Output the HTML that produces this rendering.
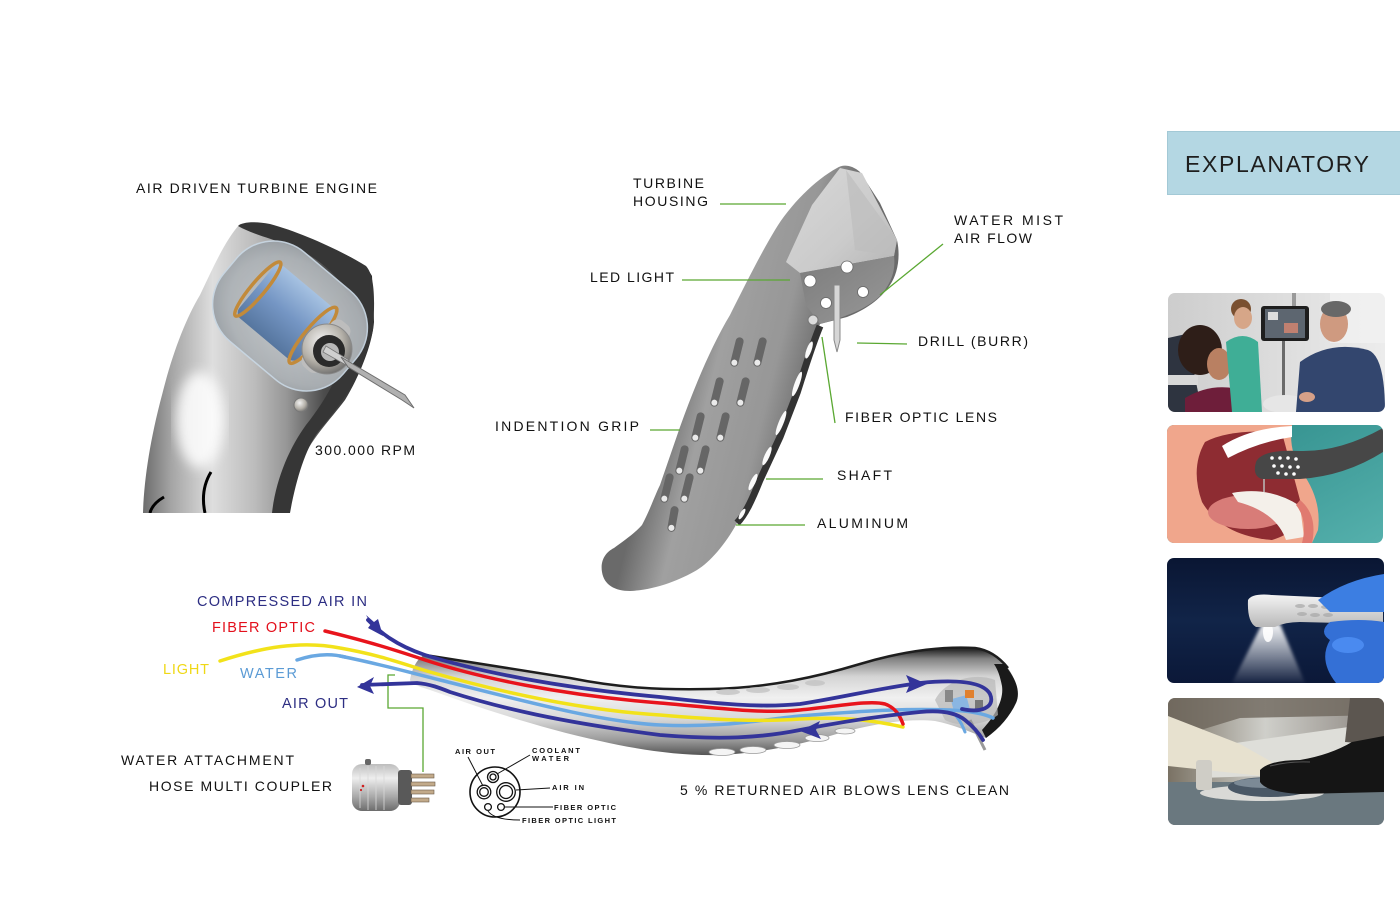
<!DOCTYPE html>
<html><head><meta charset="utf-8"><style>
html,body{margin:0;padding:0;background:#fff;}
svg{display:block;}
text{font-family:"Liberation Sans",Arial,sans-serif;}
</style></head><body>
<svg width="1400" height="906" viewBox="0 0 1400 906" xmlns="http://www.w3.org/2000/svg">
<defs>
<linearGradient id="turb" gradientUnits="userSpaceOnUse" x1="143" y1="0" x2="375" y2="0">
<stop offset="0" stop-color="#6c6c6c"/><stop offset="0.12" stop-color="#a4a4a4"/><stop offset="0.3" stop-color="#dedede"/><stop offset="0.48" stop-color="#bcbcbc"/><stop offset="0.62" stop-color="#969696"/><stop offset="0.78" stop-color="#4c4c4c"/><stop offset="1" stop-color="#262626"/></linearGradient>
<linearGradient id="blueCyl" x1="0" y1="0" x2="0" y2="1"><stop offset="0" stop-color="#a6c2e2"/><stop offset="0.5" stop-color="#7596c4"/><stop offset="1" stop-color="#56769f"/></linearGradient>
<radialGradient id="capsG" cx="0.55" cy="0.5" r="0.6"><stop offset="0" stop-color="#c9cdd0"/><stop offset="0.8" stop-color="#adb2b6"/><stop offset="1" stop-color="#9aa0a5"/></radialGradient>
<radialGradient id="collar" cx="0.4" cy="0.35" r="0.7"><stop offset="0" stop-color="#f2f2f2"/><stop offset="0.6" stop-color="#b4b0a8"/><stop offset="1" stop-color="#6a6a6a"/></radialGradient>
<linearGradient id="shaftG" gradientUnits="userSpaceOnUse" x1="660" y1="410" x2="800" y2="445"><stop offset="0" stop-color="#6a6a6a"/><stop offset="0.3" stop-color="#a0a0a0"/><stop offset="0.7" stop-color="#979797"/><stop offset="1" stop-color="#6a6a6a"/></linearGradient>
<linearGradient id="topFace" x1="0" y1="0" x2="1" y2="1"><stop offset="0" stop-color="#d8d8d8"/><stop offset="0.6" stop-color="#cbcbcb"/><stop offset="1" stop-color="#b4b4b4"/></linearGradient>
<linearGradient id="underG" x1="0" y1="0" x2="1" y2="1"><stop offset="0" stop-color="#7c7c7c"/><stop offset="1" stop-color="#989898"/></linearGradient>
<linearGradient id="hoseG" gradientUnits="userSpaceOnUse" x1="0" y1="650" x2="0" y2="756"><stop offset="0" stop-color="#2c2c2c"/><stop offset="0.08" stop-color="#808080"/><stop offset="0.25" stop-color="#d4d4d4"/><stop offset="0.45" stop-color="#f0f0f0"/><stop offset="0.65" stop-color="#d8d8d8"/><stop offset="0.85" stop-color="#9a9a9a"/><stop offset="1" stop-color="#505050"/></linearGradient>
<linearGradient id="couplerG" x1="0" y1="0" x2="0" y2="1"><stop offset="0" stop-color="#bdbdbd"/><stop offset="0.3" stop-color="#eeeeee"/><stop offset="0.7" stop-color="#a8a8a8"/><stop offset="1" stop-color="#6c6c6c"/></linearGradient>
<linearGradient id="p1bg" x1="0" y1="0" x2="1" y2="0"><stop offset="0" stop-color="#cdcdcd"/><stop offset="1" stop-color="#ececec"/></linearGradient>
<linearGradient id="p2bg" x1="0" y1="0" x2="1" y2="1"><stop offset="0" stop-color="#2c8a88"/><stop offset="1" stop-color="#55b0ac"/></linearGradient>
<linearGradient id="p3bg" x1="0" y1="0" x2="0" y2="1"><stop offset="0" stop-color="#0a1633"/><stop offset="0.5" stop-color="#112448"/><stop offset="1" stop-color="#0b1838"/></linearGradient>
<linearGradient id="cone" x1="0" y1="0" x2="0" y2="1"><stop offset="0" stop-color="#ffffff" stop-opacity="0.95"/><stop offset="1" stop-color="#ffffff" stop-opacity="0.05"/></linearGradient>
<linearGradient id="hp3" x1="0" y1="0" x2="0" y2="1"><stop offset="0" stop-color="#f4f4f4"/><stop offset="1" stop-color="#b8b8b8"/></linearGradient>
<linearGradient id="p4top" x1="0" y1="0" x2="1" y2="0"><stop offset="0" stop-color="#7a7264"/><stop offset="0.45" stop-color="#cfcfca"/><stop offset="1" stop-color="#8a847e"/></linearGradient>
<filter id="blur6"><feGaussianBlur stdDeviation="6"/></filter>
<filter id="blur2"><feGaussianBlur stdDeviation="1.5"/></filter>
<clipPath id="c1"><rect x="1168" y="293" width="217" height="119" rx="7"/></clipPath>
<clipPath id="c2"><rect x="1167" y="425" width="216" height="118" rx="7"/></clipPath>
<clipPath id="c3"><rect x="1167" y="558" width="217" height="125" rx="7"/></clipPath>
<clipPath id="c4"><rect x="1168" y="698" width="216" height="127" rx="7"/></clipPath>
<clipPath id="turbClip"><rect x="130" y="200" width="300" height="313"/></clipPath>
</defs>
<rect width="1400" height="906" fill="#fff"/>

<!-- ============ TURBINE (top-left) ============ -->
<g clip-path="url(#turbClip)">
<path d="M240,224 C255,222 270,224 285,230 L330,248 C350,256 366,264 372,276 L374,322 C372,345 360,375 345,400 C330,420 310,440 300,465 L288,513 L143,513 C144,480 150,440 162,395 C172,355 185,320 200,295 C212,270 225,240 240,224 Z" fill="url(#turb)"/>
<path d="M238,226 C242,222 255,221 270,224 C300,232 340,250 366,266 C375,276 375,300 373,330 C362,378 340,405 318,432 C305,450 296,480 290,513 L272,513 C276,478 290,447 306,425 C330,395 348,360 352,322 C354,290 330,262 290,246 C270,238 252,234 238,226 Z" fill="#363636"/>
<ellipse cx="200" cy="420" rx="24" ry="48" fill="#ffffff" opacity="0.85" filter="url(#blur6)"/>
<g transform="translate(290,316) rotate(40)">
<rect x="-78" y="-58" width="156" height="116" rx="48" fill="url(#capsG)" opacity="0.95" stroke="#c8d6e2" stroke-width="1.5"/>
<rect x="-44" y="-34" width="78" height="68" rx="8" fill="url(#blueCyl)"/>
<ellipse cx="-42" cy="0" rx="7" ry="35" fill="none" stroke="#c28a3a" stroke-width="3.5"/>
<ellipse cx="30" cy="0" rx="8" ry="36" fill="none" stroke="#c28a3a" stroke-width="3.5"/>
<rect x="36" y="-30" width="22" height="60" rx="8" fill="#bdbdbd"/>
</g>
<circle cx="327" cy="349" r="25" fill="url(#collar)" stroke="#8a8a8a" stroke-width="1"/>
<circle cx="329" cy="351" r="16" fill="#2a2a2a"/>
<circle cx="330" cy="352" r="9" fill="#b8b8b8"/>
<path d="M326,346 L349,360 L346,365 L323,352 Z" fill="#d0d0d0" stroke="#777" stroke-width="0.8"/>
<path d="M341,357 L348,367 L402,400 L414,408 L405,395 Z" fill="#b0b0b0" stroke="#6e6e6e" stroke-width="1"/>
<circle cx="301" cy="405" r="7" fill="url(#collar)" stroke="#777" stroke-width="1"/>
<path d="M164,497 Q152,504 150,513" stroke="#000" stroke-width="3" fill="none"/>
<path d="M211,472 Q200,490 205,513" stroke="#000" stroke-width="3" fill="none"/>
</g>

<!-- ============ CENTER HANDPIECE ============ -->
<path d="M837,168 C843,164 852,165 860,172 L880,203 L897,240 C901,258 897,275 890,285 C880,300 865,310 847,317 L820,324 C812,340 805,365 797,393 L780,437 L760,480 C752,500 745,515 737,523 C725,545 710,562 697,570 C680,580 655,590 630,591 C615,591 604,585 602,572 C600,560 606,552 614,548 C625,540 635,533 642,525 C650,510 655,495 660,485 L680,427 C695,385 712,345 730,315 C745,285 760,255 775,230 C790,205 815,180 837,168 Z" fill="url(#shaftG)"/>
<path d="M840,168 L862,173 L897,240 L894,256 L800,273 L786,262 L812,205 Z" fill="url(#topFace)"/>
<path d="M846,170 L897,240 L894,256 L855,250 Z" fill="#bdbdbd" opacity="0.7"/>
<path d="M800,273 L894,256 C896,272 890,285 880,296 C866,309 848,316 820,324 L806,305 Z" fill="url(#underG)"/>
<circle cx="810" cy="281" r="6" fill="#fff" stroke="#666" stroke-width="0.8"/>
<circle cx="847" cy="267" r="6" fill="#fff" stroke="#666" stroke-width="0.8"/>
<circle cx="863" cy="292" r="5.5" fill="#fff" stroke="#666" stroke-width="0.8"/>
<circle cx="826" cy="303" r="5.5" fill="#fff" stroke="#666" stroke-width="0.8"/>
<circle cx="813" cy="320" r="5" fill="#dcdcdc" stroke="#777" stroke-width="1"/>
<path d="M834,285 L840,285 L840,340 L837,352 L834,340 Z" fill="#d6d6d6" stroke="#888" stroke-width="1"/>
<path d="M820,326 C812,345 805,368 797,393 L780,437 L760,480 C752,500 745,515 737,523" fill="none" stroke="#333" stroke-width="7"/>
<g fill="#fafafa">
<ellipse cx="809" cy="350" rx="2.5" ry="9" transform="rotate(20 809 350)"/>
<ellipse cx="797" cy="384" rx="2.5" ry="13" transform="rotate(20 797 384)"/>
<ellipse cx="781" cy="423" rx="2.5" ry="13" transform="rotate(22 781 423)"/>
<ellipse cx="767" cy="456" rx="2.5" ry="10" transform="rotate(24 767 456)"/>
<ellipse cx="753" cy="482" rx="2.5" ry="9" transform="rotate(26 753 482)"/>
<ellipse cx="742" cy="514" rx="2" ry="6" transform="rotate(30 742 514)"/>
</g>
<g>
<g transform="translate(737,352) rotate(14)"><rect x="-4" y="-15" width="8" height="30" rx="4" fill="#666"/><ellipse cx="0" cy="11" rx="3" ry="3" fill="#eaeaea"/></g>
<g transform="translate(760,352) rotate(14)"><rect x="-4" y="-15" width="8" height="30" rx="4" fill="#666"/><ellipse cx="0" cy="11" rx="3" ry="3" fill="#eaeaea"/></g>
<g transform="translate(717,392) rotate(14)"><rect x="-4" y="-15" width="8" height="30" rx="4" fill="#666"/><ellipse cx="0" cy="11" rx="3" ry="3" fill="#eaeaea"/></g>
<g transform="translate(743,392) rotate(14)"><rect x="-4" y="-15" width="8" height="30" rx="4" fill="#666"/><ellipse cx="0" cy="11" rx="3" ry="3" fill="#eaeaea"/></g>
<g transform="translate(698,427) rotate(14)"><rect x="-4" y="-15" width="8" height="30" rx="4" fill="#666"/><ellipse cx="0" cy="11" rx="3" ry="3" fill="#eaeaea"/></g>
<g transform="translate(723,427) rotate(14)"><rect x="-4" y="-15" width="8" height="30" rx="4" fill="#666"/><ellipse cx="0" cy="11" rx="3" ry="3" fill="#eaeaea"/></g>
<g transform="translate(682,460) rotate(14)"><rect x="-4" y="-15" width="8" height="30" rx="4" fill="#666"/><ellipse cx="0" cy="11" rx="3" ry="3" fill="#eaeaea"/></g>
<g transform="translate(703,460) rotate(14)"><rect x="-4" y="-15" width="8" height="30" rx="4" fill="#666"/><ellipse cx="0" cy="11" rx="3" ry="3" fill="#eaeaea"/></g>
<g transform="translate(667,488) rotate(14)"><rect x="-4" y="-15" width="8" height="30" rx="4" fill="#666"/><ellipse cx="0" cy="11" rx="3" ry="3" fill="#eaeaea"/></g>
<g transform="translate(687,488) rotate(14)"><rect x="-4" y="-15" width="8" height="30" rx="4" fill="#666"/><ellipse cx="0" cy="11" rx="3" ry="3" fill="#eaeaea"/></g>
<g transform="translate(673,519) rotate(10)"><rect x="-4" y="-13" width="8" height="26" rx="4" fill="#666"/><ellipse cx="0" cy="9" rx="3" ry="3" fill="#eaeaea"/></g>
</g>

<!-- green leaders -->
<g stroke="#5aa832" stroke-width="1.3" fill="none">
<line x1="720" y1="204" x2="786" y2="204"/>
<line x1="682" y1="280" x2="790" y2="280"/>
<line x1="943" y1="244" x2="880" y2="295"/>
<line x1="857" y1="343" x2="907" y2="344"/>
<line x1="822" y1="337" x2="835" y2="423"/>
<line x1="650" y1="430" x2="680" y2="430"/>
<line x1="766" y1="479" x2="823" y2="479"/>
<line x1="736" y1="525" x2="805" y2="525"/>
<path d="M395,675 L388,675 L388,708 L423,708 L423,772"/>
</g>

<!-- ============ BOTTOM HOSE ============ -->
<path d="M410,680 C412,668 418,657 425,655 C470,662 520,670 570,678 C620,688 660,690 710,689 C770,688 820,676 860,664 C900,652 940,646 975,648 C990,650 1000,658 1008,668 C1016,680 1020,692 1016,702 C1010,716 1000,728 986,738 C970,732 952,724 935,721 C905,718 870,725 840,733 C800,745 760,753 720,755 C680,756 640,750 600,741 C540,728 480,708 430,690 C418,686 411,684 410,680 Z" fill="url(#hoseG)"/>
<path d="M425,655 C470,662 520,670 570,678 C620,688 660,690 710,689 C770,688 820,676 860,664 C900,652 940,646 975,648 C990,650 1000,658 1008,668" fill="none" stroke="#1e1e1e" stroke-width="2.5"/>
<path d="M1004,664 C1016,678 1021,692 1016,703 C1010,716 1000,728 986,738 L982,730 C995,716 1004,700 1002,686 C1000,676 998,670 994,664 Z" fill="#1a1a1a"/>
<path d="M935,700 C945,680 975,672 995,680 L998,715 C985,725 960,728 945,720 Z" fill="#b8b8b8" opacity="0.7"/>
<g fill="#f4f4f4" stroke="#9a9a9a" stroke-width="0.8">
<ellipse cx="722" cy="752" rx="13" ry="3.5"/>
<ellipse cx="753" cy="750" rx="13" ry="3.5"/>
<ellipse cx="787" cy="745" rx="13" ry="3.5"/>
<ellipse cx="817" cy="738" rx="12" ry="3.5"/>
<ellipse cx="845" cy="731" rx="10" ry="3"/>
</g>
<g fill="#c4c4c4" opacity="0.8">
<ellipse cx="728" cy="692" rx="12" ry="3"/>
<ellipse cx="758" cy="690" rx="12" ry="3"/>
<ellipse cx="788" cy="687" rx="11" ry="3"/>
<ellipse cx="815" cy="683" rx="10" ry="3"/>
</g>
<rect x="952" y="697" width="16" height="13" fill="#8ab6e2" transform="rotate(-15 960 703)"/>
<rect x="965" y="690" width="9" height="8" fill="#e0802e"/>
<rect x="945" y="690" width="8" height="12" fill="#888"/>
<rect x="975" y="700" width="8" height="10" fill="#777"/>
<line x1="970" y1="720" x2="985" y2="750" stroke="#999" stroke-width="3"/>

<g fill="none" stroke-linecap="round">
<path d="M340,656 C380,664 400,670 440,680 C520,700 600,722 660,725 C720,728 760,720 800,716 C850,712 900,708 950,710 C970,711 985,714 993,718" stroke="#6aa8e2" stroke-width="3.5"/>
<path d="M297,660 C315,654 330,653 345,657" stroke="#6aa8e2" stroke-width="3.5"/>
<path d="M950,710 C958,716 962,724 965,732" stroke="#6aa8e2" stroke-width="3"/>
<path d="M220,661 C260,648 300,640 340,648 C380,655 400,663 430,672 C500,692 580,710 660,715 C720,720 760,722 800,719 C850,716 880,722 903,727" stroke="#f2e21a" stroke-width="3.5"/>
<path d="M325,631 C370,642 395,650 425,660 C480,678 560,695 660,703 C720,708 760,714 800,710 C840,706 870,700 885,704 C896,708 900,716 903,724" stroke="#e8141c" stroke-width="3.5"/>
<path d="M368,620 C380,632 395,645 425,655 C480,672 560,688 660,697 C720,704 760,708 800,704 C840,698 880,688 920,683 C950,680 982,680 990,694 C996,708 980,713 962,709" stroke="#33349a" stroke-width="3.8"/>
<path d="M362,685 L417,683 C430,684 440,688 450,692 C500,708 560,722 660,735 C720,740 760,738 800,730 C840,722 880,716 920,712 C940,710 955,712 965,720 C975,728 980,735 983,740" stroke="#33349a" stroke-width="3.8"/>
</g>
<g fill="#33349a">
<path d="M383,636 L368,628 L371,624 L366,615 L374,622 L378,619 Z"/>
<path d="M357,687 L374,677 L370,686 L374,694 Z"/>
<path d="M927,684 L906,675 L910,684 L906,693 Z"/>
<path d="M800,731 L820,721 L816,730 L821,739 Z"/>
</g>

<!-- coupler -->
<rect x="352" y="764" width="48" height="47" rx="10" fill="url(#couplerG)"/>
<g stroke="#d8d8d8" stroke-width="1" opacity="0.8"><line x1="360" y1="768" x2="360" y2="808"/><line x1="368" y1="766" x2="368" y2="810"/><line x1="376" y1="766" x2="376" y2="810"/><line x1="384" y1="766" x2="384" y2="810"/></g>
<rect x="365" y="759" width="6" height="6" rx="2" fill="#666"/>
<rect x="398" y="770" width="14" height="35" rx="3" fill="#595959"/>
<g fill="#c2aa8a" stroke="#6a5a4a" stroke-width="0.6">
<rect x="411" y="774" width="23" height="4"/><rect x="411" y="782" width="24" height="4"/><rect x="411" y="790" width="23" height="4"/><rect x="411" y="798" width="18" height="4"/>
</g>
<circle cx="363" cy="786" r="1.3" fill="#d02020"/><circle cx="361" cy="790" r="1.1" fill="#d02020"/>

<!-- connector diagram -->
<g fill="none" stroke="#111" stroke-width="1.3">
<circle cx="495" cy="792" r="25" fill="#fff" stroke-width="1.6"/>
<circle cx="493" cy="777" r="5.5"/><circle cx="493" cy="777" r="3"/>
<circle cx="484" cy="792" r="6.8"/><circle cx="484" cy="792" r="4.3"/>
<circle cx="506" cy="792" r="9.3"/><circle cx="506" cy="792" r="6.5"/>
<circle cx="488" cy="807" r="3.4"/><circle cx="501" cy="807" r="3.4"/>
<line x1="468" y1="757" x2="483" y2="786" stroke-width="1"/>
<line x1="530" y1="755" x2="497" y2="774" stroke-width="1"/>
<line x1="516" y1="790" x2="550" y2="788" stroke-width="1"/>
<line x1="505" y1="807" x2="553" y2="807" stroke-width="1"/>
<path d="M488,811 Q494,820 520,820" stroke-width="1"/>
</g>
<g font-size="7.5" font-weight="bold" fill="#111">
<text x="455" y="754" textLength="40" lengthAdjust="spacing">AIR OUT</text>
<text x="532" y="753" textLength="48" lengthAdjust="spacing">COOLANT</text>
<text x="532" y="761" textLength="37" lengthAdjust="spacing">WATER</text>
<text x="552" y="790" textLength="32" lengthAdjust="spacing">AIR  IN</text>
<text x="554" y="810" textLength="62" lengthAdjust="spacing">FIBER OPTIC</text>
<text x="522" y="823" textLength="94" lengthAdjust="spacing">FIBER OPTIC LIGHT</text>
</g>

<!-- labels -->
<g font-size="14" fill="#111">
<text x="136" y="193" textLength="241" lengthAdjust="spacing">AIR DRIVEN TURBINE ENGINE</text>
<text x="315" y="455" textLength="100" lengthAdjust="spacing">300.000 RPM</text>
<text x="633" y="188" textLength="71" lengthAdjust="spacing">TURBINE</text>
<text x="633" y="206" textLength="75" lengthAdjust="spacing">HOUSING</text>
<text x="590" y="282" textLength="84" lengthAdjust="spacing">LED LIGHT</text>
<text x="954" y="225" textLength="109" lengthAdjust="spacing">WATER MIST</text>
<text x="954" y="243" textLength="78" lengthAdjust="spacing">AIR FLOW</text>
<text x="918" y="346" textLength="110" lengthAdjust="spacing">DRILL (BURR)</text>
<text x="845" y="422" textLength="152" lengthAdjust="spacing">FIBER OPTIC LENS</text>
<text x="495" y="431" textLength="144" lengthAdjust="spacing">INDENTION GRIP</text>
<text x="837" y="480" textLength="55" lengthAdjust="spacing">SHAFT</text>
<text x="817" y="528" textLength="91" lengthAdjust="spacing">ALUMINUM</text>
<text x="121" y="765" textLength="173" lengthAdjust="spacing">WATER ATTACHMENT</text>
<text x="149" y="791" textLength="183" lengthAdjust="spacing">HOSE MULTI COUPLER</text>
<text x="680" y="795" textLength="329" lengthAdjust="spacing">5 % RETURNED AIR BLOWS LENS CLEAN</text>
</g>
<g font-size="14.5">
<text x="197" y="606" textLength="170" lengthAdjust="spacing" fill="#2d2e83">COMPRESSED AIR IN</text>
<text x="212" y="632" textLength="103" lengthAdjust="spacing" fill="#e3101c">FIBER OPTIC</text>
<text x="163" y="674" textLength="46" lengthAdjust="spacing" fill="#efd816">LIGHT</text>
<text x="240" y="678" textLength="57" lengthAdjust="spacing" fill="#5b9bd5">WATER</text>
<text x="282" y="708" textLength="66" lengthAdjust="spacing" fill="#2d2e83">AIR OUT</text>
</g>

<!-- ============ RIGHT PANEL ============ -->
<rect x="1167" y="131" width="233" height="64" fill="#b4d7e3"/>
<rect x="1167.5" y="131.5" width="233" height="63" fill="none" stroke="#a3c9d6" stroke-width="1"/>
<text x="1185" y="172" font-size="23" fill="#1e1e1e" textLength="184" lengthAdjust="spacing">EXPLANATORY</text>

<!-- photo 1 -->
<g clip-path="url(#c1)">
<rect x="1168" y="293" width="217" height="119" fill="url(#p1bg)"/>
<rect x="1330" y="293" width="55" height="50" fill="#f2f2f2" opacity="0.7"/>
<path d="M1168,338 L1186,334 L1194,372 L1202,412 L1168,412 Z" fill="#2e3440"/>
<rect x="1168" y="375" width="30" height="10" fill="#d8d8d8"/>
<ellipse cx="1200" cy="350" rx="22" ry="25" fill="#2e1e18"/>
<ellipse cx="1219" cy="364" rx="12" ry="16" fill="#b98062"/>
<path d="M1185,398 Q1215,380 1248,392 L1252,412 L1185,412 Z" fill="#6e1e3a"/>
<ellipse cx="1241" cy="309" rx="10" ry="10" fill="#7a5030"/>
<path d="M1226,342 Q1243,330 1258,342 L1262,412 L1232,412 Z" fill="#3fae96"/>
<ellipse cx="1243" cy="318" rx="9" ry="11" fill="#d6a688"/>
<rect x="1292" y="293" width="4" height="14" fill="#9a9a9a"/>
<rect x="1261" y="306" width="48" height="35" rx="3" fill="#1e1e1e"/>
<rect x="1265" y="309" width="40" height="29" fill="#5d6670"/>
<rect x="1268" y="312" width="10" height="8" fill="#ddd"/><rect x="1284" y="323" width="14" height="10" fill="#c08070"/>
<rect x="1282" y="341" width="3" height="55" fill="#6a6a6a"/>
<ellipse cx="1285" cy="404" rx="22" ry="9" fill="#e6e6e6"/>
<path d="M1300,362 Q1330,340 1368,350 Q1385,356 1385,412 L1296,412 Z" fill="#33466e"/>
<ellipse cx="1334" cy="324" rx="14" ry="18" fill="#cf9a80"/>
<ellipse cx="1336" cy="309" rx="15" ry="8" fill="#686868"/>
<ellipse cx="1307" cy="397" rx="8" ry="5" fill="#d6a088"/>
</g>

<!-- photo 2 -->
<g clip-path="url(#c2)">
<rect x="1167" y="425" width="216" height="118" fill="url(#p2bg)"/>
<path d="M1167,425 L1292,425 Q1288,450 1302,472 Q1322,500 1318,530 L1312,543 L1167,543 Z" fill="#f0a68c"/>
<path d="M1205,442 Q1232,428 1282,433 Q1292,470 1300,500 Q1306,530 1272,540 Q1222,536 1202,502 Q1190,468 1205,442 Z" fill="#8e2c32"/>
<ellipse cx="1248" cy="512" rx="40" ry="17" fill="#d87c78"/>
<path d="M1222,446 Q1250,428 1292,426 L1292,437 Q1258,442 1228,458 Z" fill="#ffffff"/>
<path d="M1232,493 Q1270,486 1300,506 L1304,537 L1286,540 Q1276,512 1238,502 Z" fill="#f4f0ea"/>
<path d="M1300,500 Q1318,515 1312,543 L1302,543 Q1308,520 1296,505 Z" fill="#e07a70"/>
<path d="M1256,462 Q1262,449 1300,451 Q1340,452 1383,428 L1383,452 Q1345,476 1300,479 L1262,479 Q1252,476 1256,462 Z" fill="#474747"/>
<g fill="#fff"><circle cx="1272" cy="458" r="1.8"/><circle cx="1280" cy="458" r="1.8"/><circle cx="1288" cy="458" r="1.8"/><circle cx="1296" cy="459" r="1.8"/><circle cx="1274" cy="466" r="1.8"/><circle cx="1282" cy="466" r="1.8"/><circle cx="1290" cy="467" r="1.8"/><circle cx="1298" cy="467" r="1.8"/><circle cx="1278" cy="473" r="1.8"/><circle cx="1286" cy="474" r="1.8"/><circle cx="1294" cy="474" r="1.8"/></g>
<line x1="1264" y1="479" x2="1264" y2="492" stroke="#bbb" stroke-width="1.5"/>
</g>

<!-- photo 3 -->
<g clip-path="url(#c3)">
<rect x="1167" y="558" width="217" height="125" fill="url(#p3bg)"/>
<path d="M1262,624 L1280,624 L1305,683 L1232,683 Z" fill="url(#cone)" filter="url(#blur2)"/>
<ellipse cx="1268" cy="632" rx="5" ry="10" fill="#fff" opacity="0.9"/>
<path d="M1248,600 Q1252,593 1272,595 L1383,600 L1383,624 L1300,622 Q1285,622 1275,627 L1256,627 Q1247,622 1248,600 Z" fill="url(#hp3)"/>
<g fill="#a8a8a8" opacity="0.7"><ellipse cx="1300" cy="606" rx="5" ry="2"/><ellipse cx="1313" cy="606" rx="5" ry="2"/><ellipse cx="1326" cy="607" rx="5" ry="2"/><ellipse cx="1302" cy="614" rx="5" ry="2"/><ellipse cx="1315" cy="615" rx="5" ry="2"/><ellipse cx="1328" cy="615" rx="5" ry="2"/></g>
<path d="M1318,600 Q1345,580 1384,574 L1384,612 L1330,612 Z" fill="#3c7ee2"/>
<path d="M1330,622 Q1360,618 1384,622 L1384,683 L1336,683 Q1318,660 1330,640 Q1318,632 1330,622 Z" fill="#3470d6"/>
<ellipse cx="1348" cy="645" rx="16" ry="8" fill="#4a8af0"/>
</g>

<!-- photo 4 -->
<g clip-path="url(#c4)">
<rect x="1168" y="698" width="216" height="127" fill="url(#p4top)"/>
<path d="M1168,698 L1384,698 L1384,715 L1240,718 L1168,740 Z" fill="#6e675c" opacity="0.8"/>
<path d="M1200,748 L1384,722 L1384,772 L1200,778 Z" fill="#deded9"/>
<path d="M1350,698 L1384,698 L1384,745 L1345,742 Z" fill="#5c5650"/>
<path d="M1168,716 L1240,744 L1272,762 L1262,776 L1168,766 Z" fill="#e7e1cf"/>
<rect x="1168" y="782" width="216" height="43" fill="#637179"/>
<rect x="1168" y="782" width="216" height="43" fill="#7a8890" opacity="0.3"/>
<ellipse cx="1262" cy="793" rx="62" ry="8" fill="#d9d9d6"/>
<rect x="1196" y="760" width="16" height="30" rx="3" fill="#cfcdc6"/>
<ellipse cx="1270" cy="787" rx="42" ry="10" fill="#4a5866"/>
<ellipse cx="1268" cy="783" rx="34" ry="5" fill="#7c8a96"/>
<path d="M1260,770 Q1270,760 1300,760 Q1330,755 1352,742 L1384,736 L1384,792 L1300,794 Q1266,792 1260,782 Z" fill="#151515"/>
<path d="M1270,766 Q1290,761 1310,762" stroke="#555" stroke-width="1" fill="none"/>
</g>
</svg>
</body></html>
